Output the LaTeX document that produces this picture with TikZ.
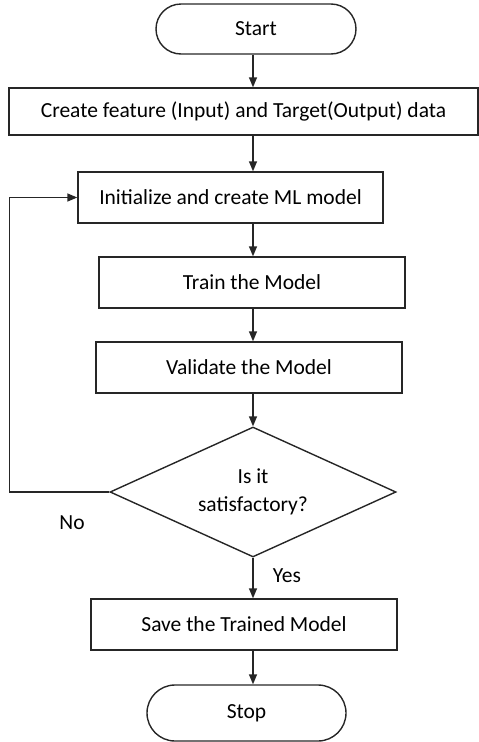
\documentclass[tikz,border=0pt]{standalone}
\usepackage{fontspec}
\setmainfont{Carlito}
\usepackage{tikz}
\usetikzlibrary{arrows.meta,shapes.geometric}

\tikzset{
  box/.style={draw=black!85,line width=1.4pt,rectangle,minimum height=51pt,inner sep=0pt},
  term/.style={draw=black!85,line width=1.4pt,rectangle,rounded corners=25pt,minimum width=200pt,inner sep=0pt},
  arr/.style={draw=black!85,line width=1.4pt,-{Triangle[width=8pt,length=10pt]}},
}

\begin{document}
\begin{tikzpicture}[x=1pt,y=-1pt,font=\fontsize{21.5}{28}\selectfont]
      \useasboundingbox (0,0) rectangle (479,742);
      \coordinate (axis) at (253,0);
      \node[term,minimum height=50pt] (start) at (256,29) {Start};
      \node[box,minimum width=469pt,minimum height=47pt] (data) at (243.5,111.5) {Create feature (Input) and Target(Output) data};
      \node[box,minimum width=305pt] (init) at (230.5,197.5) {Initialize and create ML model};
      \node[box,minimum width=306pt] (train) at (252,282.5) {Train the Model};
      \node[box,minimum width=306pt] (valid) at (249,367.5) {Validate the Model};
      \node[draw=black!85,line width=1.4pt,diamond,aspect=2.2,minimum width=286pt,minimum height=130pt,inner sep=0pt,align=center] (check) at (253,492) {Is it\\satisfactory?};
      \node[box,minimum width=306pt] (save) at (244,624.5) {Save the Trained Model};
      \node[term,minimum width=199pt,minimum height=56pt,rounded corners=28pt] (stop) at (246.5,713) {Stop};
      \draw[arr] (start.south -| axis) -- (data.north -| axis);
      \draw[arr] (data.south -| axis) -- (init.north -| axis);
      \draw[arr] (init.south -| axis) -- (train.north -| axis);
      \draw[arr] (train.south -| axis) -- (valid.north -| axis);
      \draw[arr] (valid.south -| axis) -- (check.north);
      \draw[arr] (check.south) -- (save.north -| axis);
      \draw[arr] (save.south -| axis) -- (stop.north -| axis);
      \draw[arr] (check.west) -- ++(-100,0) |- (init.west);
      \node (no) at (72,523) {No};
      \node (yes) at (287,576) {Yes};
\end{tikzpicture}
\end{document}
